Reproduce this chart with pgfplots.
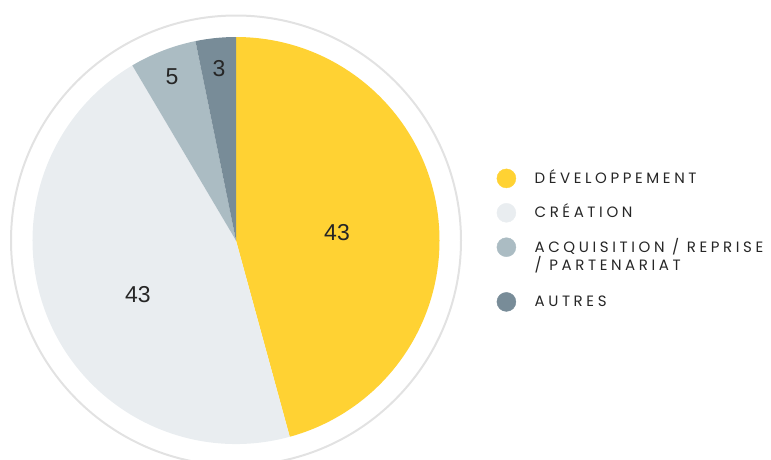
\documentclass[border=0pt]{standalone}
\usepackage{pgfplots}
\usepackage{pgfplotstable}
\pgfplotsset{compat=1.18}
\usepackage{fontspec}
\setmainfont{Liberation Sans}
\newfontfamily\legfont[LetterSpace=24]{Poppins}
\definecolor{cA}{HTML}{FFD233}
\definecolor{cB}{HTML}{E9EDF0}
\definecolor{cC}{HTML}{ABBCC3}
\definecolor{cD}{HTML}{788C98}
\definecolor{ringc}{HTML}{E2E2E2}
\definecolor{txt}{HTML}{262626}
\newcommand\lstrut{\rule[-5pt]{0pt}{15pt}}
\pgfplotstableread{
value
43
43
5
3
}\piedata
\pgfplotstablegetelem{0}{value}\of\piedata \let\vA\pgfplotsretval
\pgfplotstablegetelem{1}{value}\of\piedata \let\vB\pgfplotsretval
\pgfplotstablegetelem{2}{value}\of\piedata \let\vC\pgfplotsretval
\pgfplotstablegetelem{3}{value}\of\piedata \let\vD\pgfplotsretval
\pgfmathsetmacro\tot{\vA+\vB+\vC+\vD}
\pgfmathsetmacro\eA{90-360*\vA/\tot}
\pgfmathsetmacro\eB{\eA-360*\vB/\tot}
\pgfmathsetmacro\eC{\eB-360*\vC/\tot}
\pgfmathsetmacro\eD{\eC-360*\vD/\tot}
\begin{document}%
\begin{tikzpicture}
\begin{axis}[
  x=1pt, y=1pt, y dir=reverse,
  xmin=0, xmax=771, ymin=0, ymax=459,
  hide axis, scale only axis, clip=false,
  legend style={at={(axis cs:496.5,168.5)}, anchor=north west, draw=none, fill=none,
    inner sep=0pt, row sep=15pt, column sep=18.5pt,
    font=\legfont\fontsize{15}{18}\selectfont, text=txt,
    nodes={inner sep=0pt}, cells={anchor=base west}},
]
\coordinate (bbA) at (axis cs:0,459);
\coordinate (bbB) at (axis cs:771,0);
\fill[cA] (axis cs:236,240.5) -- ++(90:203.5pt) arc[start angle=90,end angle=\eA,radius=203.5pt] -- cycle;
\fill[cB] (axis cs:236,240.5) -- ++(\eA:203.5pt) arc[start angle=\eA,end angle=\eB,radius=203.5pt] -- cycle;
\fill[cC] (axis cs:236,240.5) -- ++(\eB:203.5pt) arc[start angle=\eB,end angle=\eC,radius=203.5pt] -- cycle;
\fill[cD] (axis cs:236,240.5) -- ++(\eC:203.5pt) arc[start angle=\eC,end angle=\eD,radius=203.5pt] -- cycle;
\draw[ringc, line width=2pt] (axis cs:236,240.5) circle[radius=225pt];
\node[text=txt, font=\fontsize{23}{23}\selectfont] at (axis cs:337,233) {\vA};
\node[text=txt, font=\fontsize{23}{23}\selectfont] at (axis cs:138,295) {\vB};
\node[text=txt, font=\fontsize{23}{23}\selectfont] at (axis cs:172,77) {\vC};
\node[text=txt, font=\fontsize{23}{23}\selectfont] at (axis cs:219,69) {\vD};
\addlegendimage{legend image code/.code={\fill[cA] (9.5pt,5pt) circle (9.5pt);}}
\addlegendentry{\lstrut DÉVELOPPEMENT}
\addlegendimage{legend image code/.code={\fill[cB] (9.5pt,5pt) circle (9.5pt);}}
\addlegendentry{\lstrut CRÉATION}
\addlegendimage{legend image code/.code={\fill[cC] (9.5pt,5pt) circle (9.5pt);}}
\addlegendentry{\rlap{\raisebox{-18pt}{/ PARTENARIAT}}\lstrut ACQUISITION / REPRISE}
\addlegendimage{legend image code/.code={\fill[cD] (9.5pt,5pt) circle (9.5pt);}}
\addlegendentry{\rule{0pt}{35pt}AUTRES}
\end{axis}
\pgfresetboundingbox
\clip (bbA) rectangle (bbB);
\useasboundingbox (bbA) rectangle (bbB);
\end{tikzpicture}%
\end{document}
